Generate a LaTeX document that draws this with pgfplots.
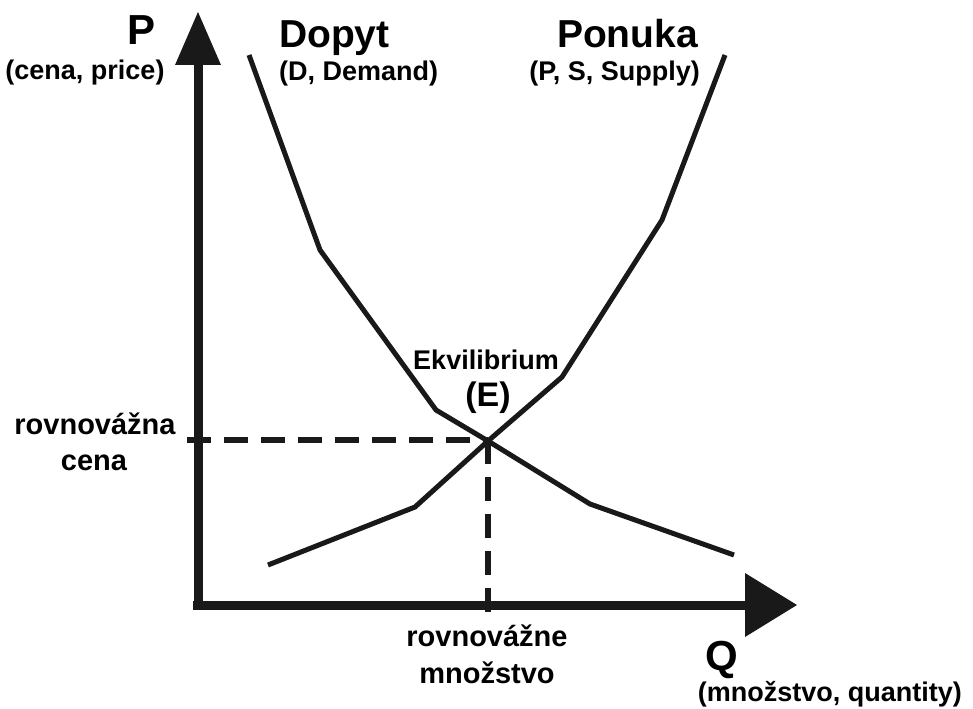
\documentclass[border=0pt]{standalone}
\usepackage{fontspec}
\setmainfont{Liberation Sans}
\usepackage{pgfplots}
\pgfplotsset{compat=1.18}

\newcommand{\fs}[1]{\fontsize{#1}{#1}\selectfont\bfseries}

\begin{document}
\begin{tikzpicture}
\begin{axis}[
  width=486.5pt, height=354pt, scale only axis,
  xmin=0, xmax=973, ymin=0, ymax=708,
  hide axis, clip=false,
  every node/.style={inner sep=0pt, text=black!90},
]
% axes with arrow heads
\addplot[black!90, line width=4.5pt] coordinates {(198,98) (198,646)};
\addplot[black!90, line width=4.5pt] coordinates {(193,103) (750,103)};
\addplot[black!90, fill=black!90, draw=none] coordinates {(175,643) (198,696) (221,643)} -- cycle;
\addplot[black!90, fill=black!90, draw=none] coordinates {(745,135) (797,103) (745,71)} -- cycle;

% equilibrium guides
\addplot[black!90, line width=2.8pt, dash pattern=on 12pt off 6.5pt] coordinates {(187,268) (488,268)};
\addplot[black!90, line width=2.8pt, dash pattern=on 12pt off 6.5pt] coordinates {(488,268) (488,90)};

% demand
\addplot[black!90, line width=2.5pt, line join=miter] coordinates {
  (249,653) (320,458) (436,298) (488,267) (590,204) (734,153)};
% supply
\addplot[black!90, line width=2.5pt, line join=miter] coordinates {
  (268,143) (415,201) (488,267) (562,331) (662,488) (725,653)};

% labels
\node[anchor=base east] at (axis cs:163,663) {\fs{21pt}P};
\node[anchor=base] at (axis cs:85,628) {\fs{13.5pt}(cena, price)};
\node[anchor=base west] at (axis cs:272,660) {\fs{19.5pt}Dopyt};
\node[anchor=base west] at (axis cs:272,627) {\fs{13.5pt}(D, Demand)};
\node[anchor=base east] at (axis cs:705,660) {\fs{19.5pt}Ponuka};
\node[anchor=base east] at (axis cs:707,627) {\fs{13.5pt}(P, S, Supply)};
\node[anchor=base] at (axis cs:486,339) {\fs{13.5pt}Ekvilibrium};
\node[anchor=base] at (axis cs:488,302) {\fs{17pt}(E)};
\node[anchor=base] at (axis cs:95,274) {\fs{14.5pt}rovnovážna};
\node[anchor=base] at (axis cs:94,238) {\fs{14.5pt}cena};
\node[anchor=base] at (axis cs:487,62) {\fs{14.5pt}rovnovážne};
\node[anchor=base] at (axis cs:487,25) {\fs{14.5pt}množstvo};
\node[anchor=base] at (axis cs:722,38) {\fs{21pt}Q};
\node[anchor=base east] at (axis cs:969,7) {\fs{13.5pt}(množstvo, quantity)};
\end{axis}
\pgfresetboundingbox
\useasboundingbox (current axis.south west) rectangle (current axis.north east);
\end{tikzpicture}
\end{document}
